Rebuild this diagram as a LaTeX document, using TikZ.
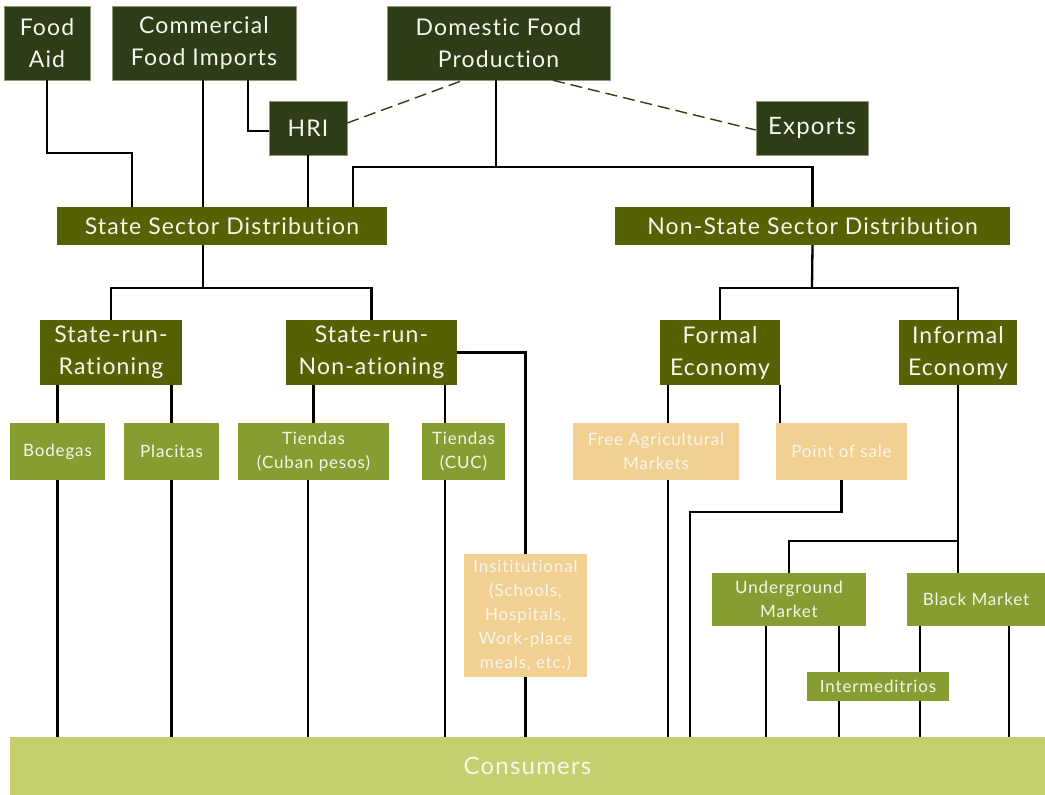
\documentclass[tikz,border=0pt]{standalone}
\usepackage{fontspec}
\setmainfont{Lato}[LetterSpace=5, Ligatures={NoCommon,NoRequired,NoContextual}, RawFeature={-liga;-dlig;-calt}]
\usetikzlibrary{calc}
\definecolor{dkgreen}{HTML}{2D3D17}
\definecolor{dkborder}{HTML}{8A9878}
\definecolor{olive}{HTML}{566104}
\definecolor{midgreen}{HTML}{859D31}
\definecolor{tan}{HTML}{F2D092}
\definecolor{lime}{HTML}{C5CF6F}
\definecolor{txt}{HTML}{F6F6EC}
\tikzset{
  box/.style={inner sep=0pt, align=center, text=txt},
  topbox/.style={box, fill=dkgreen, draw=dkborder, line width=0.6pt, font=\fontsize{23}{32}\selectfont},
  secbox/.style={box, fill=olive, font=\fontsize{23}{32}\selectfont},
  leafbox/.style={box, fill=midgreen, font=\fontsize{17}{24}\selectfont},
  tanbox/.style={box, fill=tan, font=\fontsize{17}{24}\selectfont},
  link/.style={line width=2.3pt, black},
  dlink/.style={line width=1.4pt, dkgreen, dash pattern=on 12pt off 6pt},
}
\begin{document}
\begin{tikzpicture}[x=1pt,y=-1pt]
\useasboundingbox (0,0) rectangle (1045,795);
\coordinate (j1) at (496,167);
% nodes
\node[topbox, minimum width=86, minimum height=74] (fa) at (47,43) {Food\\Aid};
\node[topbox, minimum width=184, minimum height=74] (cfi) at (204,43) {Commercial\\Food Imports};
\node[topbox, minimum width=223, minimum height=74] (dfp) at (498.5,43) {Domestic Food\\Production};
\node[topbox, minimum width=78, minimum height=54] (hri) at (308,128) {HRI};
\node[topbox, minimum width=112, minimum height=54, font=\fontsize{24}{31}\selectfont] (exp) at (812,128) {Exports};
\node[secbox, minimum width=330, minimum height=38] (ssd) at (222,226) {State Sector Distribution};
\node[secbox, minimum width=395, minimum height=38] (nssd) at (812.5,226) {Non-State Sector Distribution};
\node[secbox, minimum width=142, minimum height=65] (srr) at (111,352.5) {State-run-\\Rationing};
\node[secbox, minimum width=171, minimum height=65] (srn) at (371.5,352.5) {State-run-\\Non-ationing};
\node[secbox, minimum width=120, minimum height=65] (fe) at (720,352.5) {Formal\\Economy};
\node[secbox, minimum width=118, minimum height=65] (ie) at (958,352.5) {Informal\\Economy};
\node[leafbox, minimum width=95, minimum height=57] (bod) at (57.5,451.5) {Bodegas};
\node[leafbox, minimum width=95, minimum height=57] (pla) at (171.5,451.5) {Placitas};
\node[leafbox, minimum width=151, minimum height=57] (tcp) at (313.5,451.5) {Tiendas\\(Cuban pesos)};
\node[leafbox, minimum width=83, minimum height=57] (tcuc) at (463.5,451.5) {Tiendas\\(CUC)};
\node[tanbox, minimum width=166, minimum height=57] (fam) at (656,451.5) {Free Agricultural\\Markets};
\node[tanbox, minimum width=131, minimum height=57] (pos) at (841.5,451.5) {Point of sale};
\node[tanbox, minimum width=123, minimum height=123] (ins) at (525.5,615.5) {Insititutional\\(Schools,\\Hospitals,\\Work-place\\meals, etc.)};
\node[leafbox, minimum width=154, minimum height=53] (ug) at (789,599.5) {Underground\\Market};
\node[leafbox, minimum width=138, minimum height=53] (bm) at (976,599.5) {Black Market};
\node[leafbox, minimum width=142, minimum height=29] (int) at (878,686.5) {Intermeditrios};
\node[box, fill=lime, minimum width=1035, minimum height=58, font=\fontsize{24}{28}\selectfont] (con) at (527.5,766) {Consumers};
% connectors
\draw[link] (fa.south) |- (132,153) -- (ssd.north -| 132,0);
\draw[link] (cfi.south -| 203,0) -- (ssd.north -| 203,0);
\draw[link] (cfi.south -| 248,0) |- (hri.west |- 0,131);
\draw[link] (hri.south) -- (ssd.north -| hri.south);
\draw[link] (dfp.south -| j1) -- (j1);
\draw[link] (ssd.north -| 353,0) |- (nssd.north |- j1) -- (nssd.north);
\draw[link] (ssd.south -| 203,0) -- (203,288);
\draw[link] (srr.north) |- (srn.north |- 0,288) -- (srn.north);
\draw[link] (nssd.south) -- (812,288);
\draw[link] (fe.north) |- (ie.north |- 0,288) -- (ie.north);
\draw[link] (srr.south -| bod.north) -- (bod.north);
\draw[link] (srr.south -| pla.north) -- (pla.north);
\draw[link] (bod.south) -- (bod.south |- con.north);
\draw[link] (pla.south) -- (pla.south |- con.north);
\draw[link] (srn.south -| tcp.north) -- (tcp.north);
\draw[link] (srn.south -| 445,0) -- (tcuc.north -| 445,0);
\draw[link] (tcp.south -| 308,0) -- (con.north -| 308,0);
\draw[link] (tcuc.south -| 445,0) -- (con.north -| 445,0);
\draw[link] (srn.east) -| (ins.north);
\draw[link] (ins.south) -- (ins.south |- con.north);
\draw[link] (fe.south -| 668,0) -- (fam.north -| 668,0);
\draw[link] (fam.south -| 668,0) -- (con.north -| 668,0);
\draw[link] (fe.south east) -- (pos.north -| fe.south east);
\draw[link] (pos.south) |- (690,512) -- (con.north -| 690,0);
\draw[link] (ie.south) -- (bm.north -| ie.south);
\draw[link] (ie.south |- 0,541) -| (ug.north);
\draw[link] (ug.south -| 766,0) -- (con.north -| 766,0);
\draw[link] (ug.south -| 839,0) -- (int.north -| 839,0);
\draw[link] (int.south -| 839,0) -- (con.north -| 839,0);
\draw[link] (bm.south -| 920,0) -- (int.north -| 920,0);
\draw[link] (int.south -| 920,0) -- (con.north -| 920,0);
\draw[link] (bm.south -| 1009,0) -- (con.north -| 1009,0);
\draw[dlink] (hri.east |- 0,123) -- (dfp.south -| 463,0);
\draw[dlink] (dfp.south -| 553,0) -- (exp.west |- 0,130);
\end{tikzpicture}
\end{document}
